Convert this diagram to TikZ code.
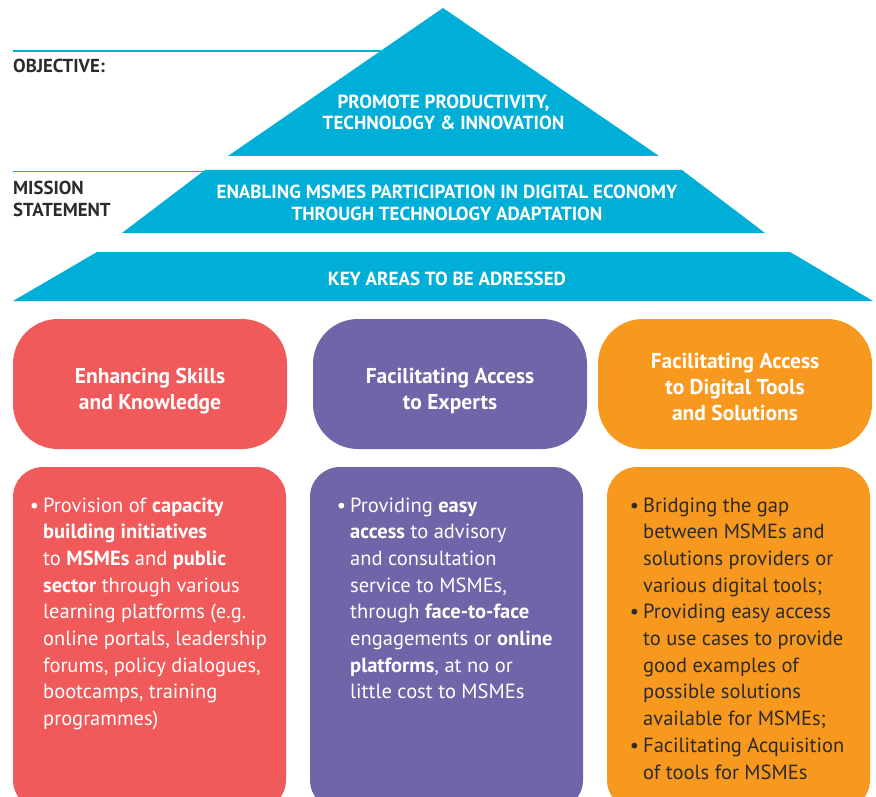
\documentclass[tikz,border=0pt]{standalone}
\usepackage{fontspec}
\setmainfont{PT Sans}
\usepackage{tikz}
\usetikzlibrary{positioning}

\definecolor{pyblue}{RGB}{0,175,216}
\definecolor{skillred}{RGB}{241,90,91}
\definecolor{expertpurple}{RGB}{113,100,169}
\definecolor{toolorange}{RGB}{247,153,30}
\definecolor{inkgray}{RGB}{45,42,43}

\begin{document}
\begin{tikzpicture}[x=1pt, y=-1pt,
    tier/.style={fill=pyblue},
    tiertext/.style={text=white, font=\bfseries\fontsize{19}{21.3}\selectfont, align=center, anchor=base},
    side/.style={text=inkgray, font=\bfseries\fontsize{18.8}{21.7}\selectfont, align=left, anchor=base west, inner sep=0pt},
    head/.style={text=white, font=\bfseries\fontsize{21.5}{26}\selectfont, align=center},
    body/.style={font=\fontsize{20.5}{26.7}\selectfont, align=left, anchor=base west, inner sep=0pt}]
      \useasboundingbox (0,0) rectangle (876,797);
      \clip (0,0) rectangle (876,797);
      % pyramid (multi-line texts sit on their last baseline)
      \fill[tier] (443,8) -- (659,156) -- (228,156) -- cycle;
      \fill[tier] (205,170) -- (682,170) -- (765,233) -- (122,233) -- cycle;
      \fill[tier] (97,252) -- (790,252) -- (873,301) -- (13,301) -- cycle;
      \node[tiertext] (objective) at (443.5,130) {PROMOTE PRODUCTIVITY,\\TECHNOLOGY \& INNOVATION};
      \node[tiertext] (mission) at (447,220) {ENABLING MSMES PARTICIPATION IN DIGITAL ECONOMY\\THROUGH TECHNOLOGY ADAPTATION};
      \node[tiertext] (keyareas) at (447,285) {KEY AREAS TO BE ADRESSED};
      % side labels
      \coordinate (objstart) at (13,51);
      \coordinate (objend) at (380.5,51);
      \coordinate (misstart) at (13,171.5);
      \coordinate (misend) at (204,171.5);
      \draw[pyblue, line width=1.2pt] (objstart) -- (objend)
                                      (misstart) -- (misend);
      \node[side] (objlabel) at (13,72.7) {OBJECTIVE:};
      \node[side] (mislabel) at (13,216.7) {MISSION\\STATEMENT};
      % key areas
      \fill [skillred, rounded corners=45] (13,319) rectangle (287,449)
            node (skills) [pos=.5, head, yshift=-7pt] {Enhancing Skills\\and Knowledge};
      \fill [expertpurple, rounded corners=45] (313,319) rectangle (587,449)
            node (experts) [pos=.5, head, yshift=-7pt] {Facilitating Access\\to Experts};
      \fill [toolorange, rounded corners=45] (598,319) rectangle (872,449)
            node (tools) [pos=.5, head, yshift=-3pt] {Facilitating Access\\to Digital Tools\\and Solutions};
      \fill [skillred, rounded corners=30] (13,467) rectangle (286,810);
      \fill [expertpurple, rounded corners=30] (310,467) rectangle (583,810);
      \fill [toolorange, rounded corners=30] (607,467) rectangle (870,810);
      \node[body, text=white] (skillslist) at (43,725.6)
            {\llap{\textbullet\hspace{4pt}}Provision of \textbf{capacity}\\
             \textbf{building initiatives}\\
             to \textbf{MSMEs} and \textbf{public}\\
             \textbf{sector} through various\\
             learning platforms (e.g.\\
             online portals, leadership\\
             forums, policy dialogues,\\
             bootcamps, training\\
             programmes)};
      \node[body, text=white] (expertslist) at (350,698.9)
            {\llap{\textbullet\hspace{4pt}}Providing \textbf{easy}\\
             \textbf{access} to advisory\\
             and consultation\\
             service to MSMEs,\\
             through \textbf{face-to-face}\\
             engagements or \textbf{online}\\
             \textbf{platforms}, at no or\\
             little cost to MSMEs};
      \node[body, text=inkgray] (toolslist) at (643,779)
            {\llap{\textbullet\hspace{4pt}}Bridging the gap\\
             between MSMEs and\\
             solutions providers or\\
             various digital tools;\\
             \llap{\textbullet\hspace{4pt}}Providing easy access\\
             to use cases to provide\\
             good examples of\\
             possible solutions\\
             available for MSMEs;\\
             \llap{\textbullet\hspace{4pt}}Facilitating Acquisition\\
             of tools for MSMEs};
\end{tikzpicture}
\end{document}
